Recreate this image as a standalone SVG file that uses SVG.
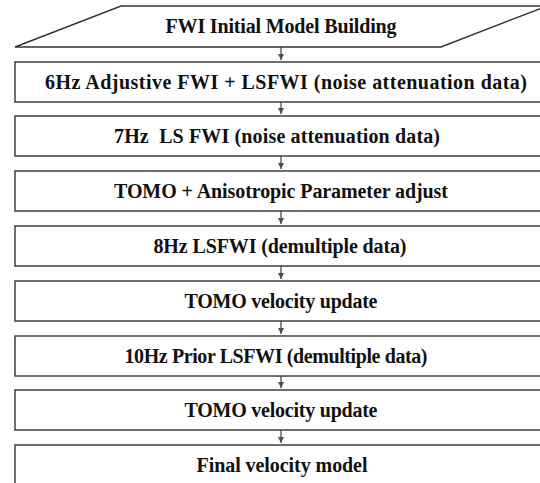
<svg xmlns="http://www.w3.org/2000/svg" width="540" height="483" viewBox="0 0 540 483">
<style>
.b{fill:#fff;stroke:#333;stroke-width:1.4}
.t{font-family:'Liberation Serif','Times New Roman',Times,serif;font-weight:700;font-size:20px;fill:#111;text-anchor:middle}
.c line{stroke:#4a4e5c;stroke-width:1.3}
</style>
<defs>
<marker id="ah" markerWidth="8" markerHeight="8" refX="6" refY="3" orient="auto" markerUnits="userSpaceOnUse">
<path d="M0,0 L6,3 L0,6 z" fill="#4a4e5c"/>
</marker>
</defs>
<rect width="540" height="483" fill="#fff"/>
<g class="c">
<line x1="281" y1="47" x2="281" y2="60" marker-end="url(#ah)"/>
<line x1="281" y1="102" x2="281" y2="114" marker-end="url(#ah)"/>
<line x1="281" y1="156" x2="281" y2="169" marker-end="url(#ah)"/>
<line x1="281" y1="211" x2="281" y2="224" marker-end="url(#ah)"/>
<line x1="281" y1="266" x2="281" y2="279" marker-end="url(#ah)"/>
<line x1="281" y1="321" x2="281" y2="334" marker-end="url(#ah)"/>
<line x1="281" y1="376" x2="281" y2="388" marker-end="url(#ah)"/>
<line x1="281" y1="430" x2="281" y2="443" marker-end="url(#ah)"/>
</g>
<g id="n0"><polygon class="b" points="15,47 121,6 547,6 441,47"/><text class="t" x="281" y="33" textLength="231" lengthAdjust="spacing">FWI Initial Model Building</text></g>
<g id="n1"><rect class="b" x="15" y="62" width="540" height="40"/><text class="t" x="286" y="89" textLength="482" lengthAdjust="spacing">6Hz Adjustive FWI + LSFWI (noise attenuation data)</text></g>
<g id="n2"><rect class="b" x="15" y="116" width="540" height="40"/><text class="t" x="277" y="143" textLength="326" lengthAdjust="spacing" xml:space="preserve">7Hz  LS FWI (noise attenuation data)</text></g>
<g id="n3"><rect class="b" x="15" y="171" width="540" height="40"/><text class="t" x="281" y="198" textLength="334" lengthAdjust="spacing">TOMO + Anisotropic Parameter adjust</text></g>
<g id="n4"><rect class="b" x="15" y="226" width="540" height="40"/><text class="t" x="280" y="253" textLength="253" lengthAdjust="spacing">8Hz LSFWI (demultiple data)</text></g>
<g id="n5"><rect class="b" x="15" y="281" width="540" height="40"/><text class="t" x="281" y="308" textLength="193" lengthAdjust="spacing">TOMO velocity update</text></g>
<g id="n6"><rect class="b" x="15" y="336" width="540" height="40"/><text class="t" x="276" y="363" textLength="303" lengthAdjust="spacing">10Hz Prior LSFWI (demultiple data)</text></g>
<g id="n7"><rect class="b" x="15" y="390" width="540" height="40"/><text class="t" x="281" y="417" textLength="193" lengthAdjust="spacing">TOMO velocity update</text></g>
<g id="n8"><rect class="b" x="15" y="445" width="540" height="45"/><text class="t" x="282" y="472" textLength="171" lengthAdjust="spacing">Final velocity model</text></g>
</svg>
